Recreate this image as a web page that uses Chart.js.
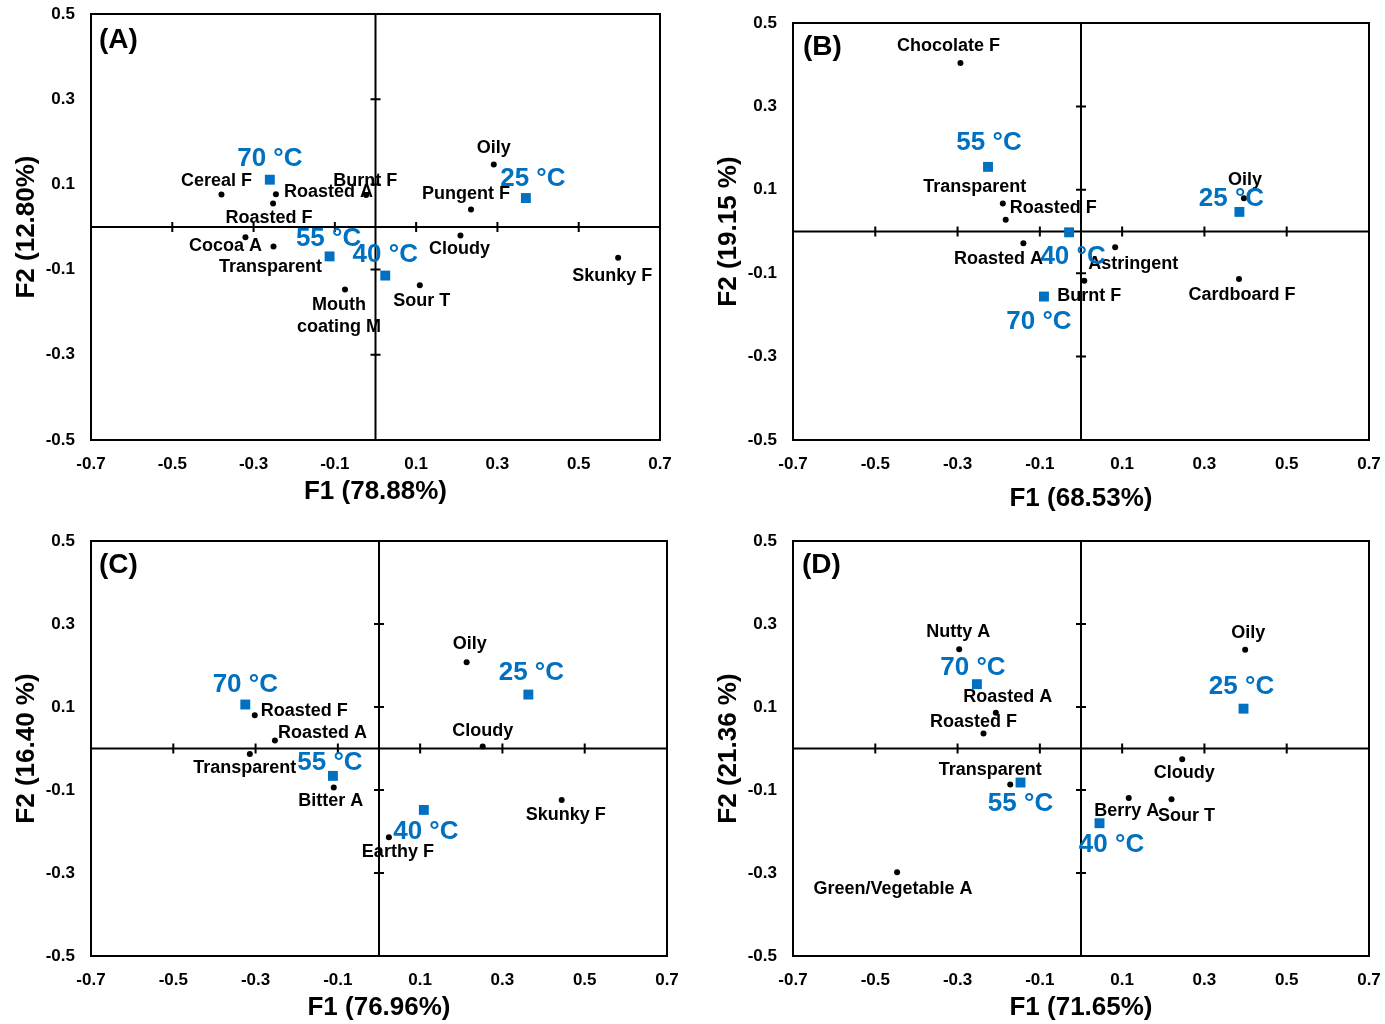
<!DOCTYPE html>
<html>
<head>
<meta charset="utf-8">
<title>PCA biplots</title>
<script src="https://cdn.jsdelivr.net/npm/chart.js@4.4.0/dist/chart.umd.min.js"></script>
<style>
  html, body { margin: 0; padding: 0; background: #fff; }
  #wrap { position: relative; width: 1385px; height: 1024px; }
  canvas { position: absolute; }
</style>
</head>
<body>
<div id="wrap">
  <canvas id="chartA" width="692" height="512" style="left:0;top:0"></canvas>
  <canvas id="chartB" width="693" height="512" style="left:692px;top:0"></canvas>
  <canvas id="chartC" width="692" height="512" style="left:0;top:512px"></canvas>
  <canvas id="chartD" width="693" height="512" style="left:692px;top:512px"></canvas>
</div>
<script>
// axis ticks shared by all four panels
const f1Ticks = [-0.7, -0.5, -0.3, -0.1, 0.1, 0.3, 0.5, 0.7];
const f2Ticks = [-0.5, -0.3, -0.1, 0.1, 0.3, 0.5];
const tempNames = ["25 °C", "40 °C", "55 °C", "70 °C"];

// (A)
const attrNamesA = ["Oily", "Pungent F", "Cloudy", "Skunky F", "Sour T", ["Mouth", "coating M"], "Burnt F", "Roasted A", "Cereal F", "Roasted F", "Cocoa A", "Transparent"];
const attrF1A = [0.291, 0.235, 0.209, 0.597, 0.109, -0.075, -0.023, -0.245, -0.379, -0.252, -0.320, -0.251];
const attrF2A = [0.147, 0.041, -0.020, -0.072, -0.137, -0.147, 0.075, 0.077, 0.076, 0.055, -0.024, -0.046];
const tempF1A = [0.370, 0.024, -0.113, -0.260];
const tempF2A = [0.068, -0.114, -0.069, 0.111];

// (B)
const attrNamesB = ["Chocolate F", "Transparent", "Roasted F", "Roasted A", "Astringent", "Burnt F", "Cardboard F", "Oily"];
const attrF1B = [-0.293, -0.190, -0.183, -0.140, 0.083, 0.008, 0.384, 0.396];
const attrF2B = [0.404, 0.067, 0.028, -0.028, -0.038, -0.118, -0.114, 0.080];
const tempF1B = [0.385, -0.029, -0.226, -0.090];
const tempF2B = [0.047, -0.002, 0.155, -0.156];

// (C)
const attrNamesC = ["Oily", "Cloudy", "Skunky F", "Earthy F", "Bitter A", "Transparent", "Roasted A", "Roasted F"];
const attrF1C = [0.213, 0.252, 0.444, 0.024, -0.110, -0.314, -0.253, -0.302];
const attrF2C = [0.208, 0.005, -0.124, -0.214, -0.094, -0.013, 0.019, 0.080];
const tempF1C = [0.363, 0.109, -0.112, -0.325];
const tempF2C = [0.130, -0.148, -0.066, 0.106];

// (D)
const attrNamesD = ["Nutty A", "Roasted A", "Roasted F", "Transparent", "Green/Vegetable A", "Oily", "Cloudy", "Berry A", "Sour T"];
const attrF1D = [-0.296, -0.207, -0.237, -0.172, -0.447, 0.399, 0.246, 0.116, 0.220];
const attrF2D = [0.239, 0.086, 0.036, -0.087, -0.298, 0.238, -0.026, -0.119, -0.122];
const tempF1D = [0.395, 0.045, -0.147, -0.253];
const tempF2D = [0.096, -0.180, -0.082, 0.155];

// label placement next to each point: [dx, dy, align]
const attrLabelPosA = [[0,-16],[-5,-16],[-1,14],[-6,18],[2,16],[-6,15],[-1,-14],[8,-2,"left"],[-5,-14],[-4,14],[-20,9],[-3,20]];
const tempLabelPosA = [[7,-19],[0,-21],[-1,-18],[0,-21]];
const attrLabelPosB = [[-12,-17],[-28,-17],[4,-12,"left"],[-25,16],[18,17],[5,15],[3,16],[1,-18]];
const tempLabelPosB = [[-8,-13],[4,24],[1,-24],[-5,25]];
const attrLabelPosC = [[3,-18],[0,-15],[4,15],[9,15],[-3,14],[-5,14],[3,-8,"left"],[6,-4,"left"]];
const tempLabelPosC = [[3,-22],[2,22],[-3,-13],[0,-20]];
const attrLabelPosD = [[-1,-17],[12,-16],[-10,-12],[-20,-15],[-4,17],[3,-17],[2,14],[-2,13],[15,17]];
const tempLabelPosD = [[-2,-22],[12,22],[0,21],[-4,-16]];

const BLUE = "#0070C0";
const FONT = "'Liberation Sans', Arial, sans-serif";
Chart.defaults.font.family = FONT;

// frame, zero axes with cross ticks, point labels, panel letter and axis titles
const pcaDecor = {
  id: "pcaDecor",
  beforeDatasetsDraw(chart) {
    const { ctx, chartArea: { left, right, top, bottom }, scales: { x, y } } = chart;
    const x0 = x.getPixelForValue(0), y0 = y.getPixelForValue(0);
    ctx.save();
    ctx.strokeStyle = "#000";
    ctx.lineWidth = 2;
    ctx.strokeRect(left, top, right - left, bottom - top);
    ctx.beginPath();
    ctx.moveTo(x0, top); ctx.lineTo(x0, bottom);
    ctx.moveTo(left, y0); ctx.lineTo(right, y0);
    f1Ticks.slice(1, -1).forEach(v => {
      const px = x.getPixelForValue(v);
      ctx.moveTo(px, y0 - 5); ctx.lineTo(px, y0 + 5);
    });
    f2Ticks.slice(1, -1).forEach(v => {
      const py = y.getPixelForValue(v);
      ctx.moveTo(x0 - 5, py); ctx.lineTo(x0 + 5, py);
    });
    ctx.stroke();
    ctx.restore();
  },
  afterDatasetsDraw(chart, args, opts) {
    const { ctx, chartArea: { left, top, bottom }, scales: { x, y } } = chart;
    ctx.save();
    ctx.textBaseline = "middle";
    chart.data.datasets.forEach((ds, di) => {
      const meta = chart.getDatasetMeta(di);
      ctx.font = ds.labelFont;
      ctx.fillStyle = ds.labelColor;
      meta.data.forEach((pt, i) => {
        const [dx, dy, align] = ds.labelPos[i];
        ctx.textAlign = align || "center";
        const lines = [].concat(ds.labelNames[i]);
        lines.forEach((t, k) => ctx.fillText(t, pt.x + dx, pt.y + dy + k * 22));
      });
    });
    ctx.fillStyle = "#000";
    ctx.textAlign = "left";
    ctx.font = "bold 28px " + FONT;
    ctx.fillText(opts.letter, left + opts.letterDx, top + opts.letterDy);
    ctx.font = "bold 26px " + FONT;
    ctx.textAlign = "center";
    ctx.fillText(opts.xTitle, x.getPixelForValue(0), bottom + opts.xTitleDy);
    ctx.translate(left - 64, y.getPixelForValue(0));
    ctx.rotate(-Math.PI / 2);
    ctx.fillText(opts.yTitle, 0, 0);
    ctx.restore();
  }
};

function noOverflowPad(s) {
  s.paddingTop = 0; s.paddingBottom = 0; s.paddingLeft = 0; s.paddingRight = 0;
}

function makePanel(id, p) {
  return new Chart(document.getElementById(id), {
    type: "scatter",
    data: {
      datasets: [
        {
          data: p.attrF1.map((v, i) => ({ x: v, y: p.attrF2[i] })),
          pointStyle: "circle", pointRadius: 3, borderWidth: 0,
          backgroundColor: "#000",
          labelNames: p.attrNames, labelPos: p.attrPos,
          labelFont: "bold 18px " + FONT, labelColor: "#000"
        },
        {
          data: p.tempF1.map((v, i) => ({ x: v, y: p.tempF2[i] })),
          pointStyle: "rect", pointRadius: 7, borderWidth: 0,
          backgroundColor: BLUE,
          labelNames: tempNames, labelPos: p.tempPos,
          labelFont: "bold 26px " + FONT, labelColor: BLUE
        }
      ]
    },
    options: {
      responsive: false,
      animation: false,
      events: [],
      layout: { padding: { top: p.padTop, right: p.padRight, left: 0, bottom: 0 } },
      plugins: {
        legend: { display: false },
        tooltip: { enabled: false },
        pcaDecor: p.decor
      },
      scales: {
        x: {
          type: "linear", position: "bottom", min: -0.7, max: 0.7,
          grid: { display: false, drawTicks: false }, border: { display: false },
          afterBuildTicks: s => { s.ticks = f1Ticks.map(v => ({ value: v })); },
          afterFit: s => { s.height = p.xHeight; noOverflowPad(s); },
          ticks: {
            autoSkip: false, maxRotation: 0, padding: 14, color: "#000",
            font: { size: 17, weight: "bold" },
            callback: v => v.toFixed(1)
          }
        },
        y: {
          type: "linear", position: "left", min: -0.5, max: 0.5,
          grid: { display: false, drawTicks: false }, border: { display: false },
          afterBuildTicks: s => { s.ticks = f2Ticks.map(v => ({ value: v })); },
          afterFit: s => { s.width = p.yWidth; noOverflowPad(s); },
          ticks: {
            autoSkip: false, padding: 16, color: "#000",
            font: { size: 17, weight: "bold" },
            callback: v => v.toFixed(1)
          }
        }
      }
    },
    plugins: [pcaDecor]
  });
}

makePanel("chartA", {
  attrNames: attrNamesA, attrF1: attrF1A, attrF2: attrF2A, attrPos: attrLabelPosA,
  tempF1: tempF1A, tempF2: tempF2A, tempPos: tempLabelPosA,
  padTop: 14, padRight: 32, yWidth: 91, xHeight: 72,
  decor: { letter: "(A)", letterDx: 8, letterDy: 26, xTitle: "F1 (78.88%)", yTitle: "F2 (12.80%)", xTitleDy: 52 }
});
makePanel("chartB", {
  attrNames: attrNamesB, attrF1: attrF1B, attrF2: attrF2B, attrPos: attrLabelPosB,
  tempF1: tempF1B, tempF2: tempF2B, tempPos: tempLabelPosB,
  padTop: 23, padRight: 16, yWidth: 101, xHeight: 72,
  decor: { letter: "(B)", letterDx: 10, letterDy: 24, xTitle: "F1 (68.53%)", yTitle: "F2 (19.15 %)", xTitleDy: 59 }
});
makePanel("chartC", {
  attrNames: attrNamesC, attrF1: attrF1C, attrF2: attrF2C, attrPos: attrLabelPosC,
  tempF1: tempF1C, tempF2: tempF2C, tempPos: tempLabelPosC,
  padTop: 29, padRight: 25, yWidth: 91, xHeight: 68,
  decor: { letter: "(C)", letterDx: 8, letterDy: 24, xTitle: "F1 (76.96%)", yTitle: "F2 (16.40 %)", xTitleDy: 52 }
});
makePanel("chartD", {
  attrNames: attrNamesD, attrF1: attrF1D, attrF2: attrF2D, attrPos: attrLabelPosD,
  tempF1: tempF1D, tempF2: tempF2D, tempPos: tempLabelPosD,
  padTop: 29, padRight: 16, yWidth: 101, xHeight: 68,
  decor: { letter: "(D)", letterDx: 9, letterDy: 24, xTitle: "F1 (71.65%)", yTitle: "F2 (21.36 %)", xTitleDy: 52 }
});
</script>
</body>
</html>
